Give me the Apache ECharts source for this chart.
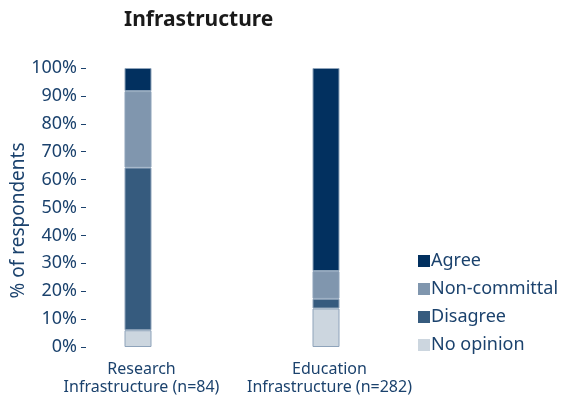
<!DOCTYPE html>
<html>
<head>
<meta charset="utf-8">
<script src="https://cdn.jsdelivr.net/npm/echarts@6/dist/echarts.min.js"></script>
<style>
  html, body { margin: 0; padding: 0; background: #fff; }
  #chart { width: 570px; height: 400px; }
</style>
</head>
<body>
<div id="chart"></div>
<script>
// Survey responses on infrastructure, share of respondents (%)
const categories = ['Research\nInfrastructure (n=84)', 'Education\nInfrastructure (n=282)'];
const noOpinion = [6.0, 13.8];
const disagree = [58.3, 3.5];
const nonCommittal = [27.4, 9.9];
const agree = [8.3, 72.8];
const yTicks = [0, 10, 20, 30, 40, 50, 60, 70, 80, 90, 100];

const textColor = '#1b426d';
const font = 'Noto Sans';
const edge = '#8ea3ba';

function bar(name, data, color) {
  return {
    name: name,
    type: 'bar',
    stack: 'total',
    barWidth: 27,
    data: data,
    itemStyle: { color: color, borderColor: edge, borderWidth: 1 }
  };
}

const chart = echarts.init(document.getElementById('chart'));
chart.setOption({
  animation: false,
  backgroundColor: '#fff',
  title: {
    text: 'Infrastructure',
    left: 119,
    top: 5,
    textStyle: { fontFamily: font, fontWeight: 'bold', fontSize: 21, color: '#1a1a1a' }
  },
  legend: {
    orient: 'vertical',
    left: 413,
    top: 247,
    itemWidth: 12,
    itemHeight: 12,
    itemGap: 10,
    icon: 'rect',
    itemStyle: { borderWidth: 0 },
    data: ['Agree', 'Non-committal', 'Disagree', 'No opinion'],
    textStyle: { fontFamily: font, fontSize: 18, color: textColor, lineHeight: 18, padding: [0, 0, 0, -4] }
  },
  grid: { left: 44, top: 68, width: 376, bottom: 53, outerBoundsMode: 'none', containLabel: false },
  xAxis: {
    type: 'category',
    data: categories,
    axisLine: { show: false },
    axisTick: { show: false },
    axisLabel: {
      interval: 0, hideOverlap: false,
      fontFamily: font, fontSize: 16, color: textColor, lineHeight: 18, margin: 13,
      padding: [0, 0, 0, 7]
    }
  },
  yAxis: {
    type: 'value',
    min: 0,
    max: 100,
    interval: 10,
    offset: -42,
    name: '% of respondents',
    nameLocation: 'middle',
    nameGap: 58,
    nameMoveOverlap: false,
    nameTextStyle: { fontFamily: font, fontSize: 19, color: textColor, padding: [0, 26, 0, 0] },
    axisLine: { show: false },
    axisTick: { show: true, length: 5, lineStyle: { color: textColor } },
    splitLine: { show: false },
    axisLabel: {
      fontFamily: font, fontSize: 18, color: textColor, margin: 9,
      formatter: function (v) { return yTicks.indexOf(v) >= 0 ? v + '%' : ''; }
    }
  },
  series: [
    bar('No opinion', noOpinion, '#ccd6df'),
    bar('Disagree', disagree, '#365b7e'),
    bar('Non-committal', nonCommittal, '#8096ae'),
    bar('Agree', agree, '#02305f')
  ]
});
</script>
</body>
</html>
